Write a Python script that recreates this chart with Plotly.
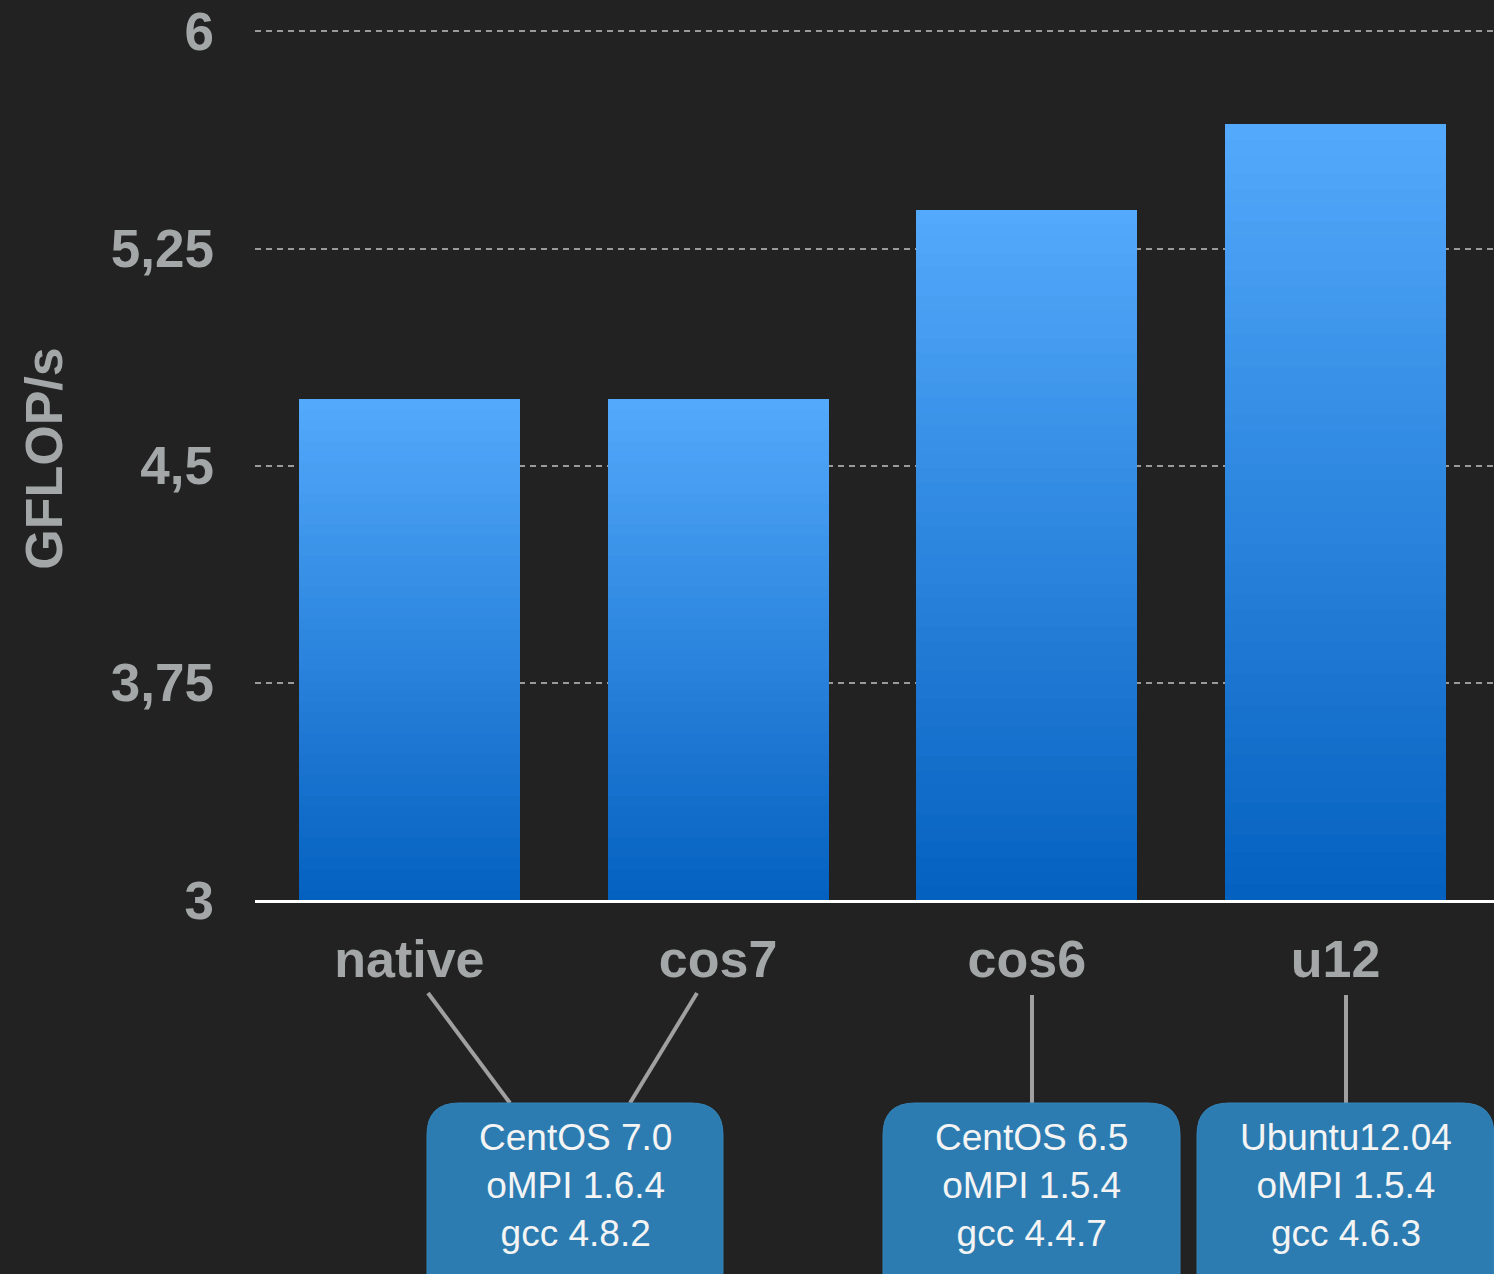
import plotly.graph_objects as go

# ---- data ----
categories = ["native", "cos7", "cos6", "u12"]
gflops = [4.73, 4.73, 5.385, 5.68]
y_tickvals = [3, 3.75, 4.5, 5.25, 6]
y_ticktext = ["3", "3,75", "4,5", "5,25", "6"]
box_texts = [
    "CentOS 7.0<br>oMPI 1.6.4<br>gcc 4.8.2",
    "CentOS 6.5<br>oMPI 1.5.4<br>gcc 4.4.7",
    "Ubuntu12.04<br>oMPI 1.5.4<br>gcc 4.6.3",
]

BASE = 3.0
N_SEG = 48
TOP_RGB = (83, 169, 251)
BOT_RGB = (5, 97, 192)

W, H = 1494, 1274
ML, MR, MT, MB = 255, 0, 17, 374
PW = W - ML - MR
PH = H - MT - MB

BG = "#222222"
GREY = "#A3A7A7"
FONT = "Liberation Sans"

fig = go.Figure()

# hidden base part (below y-axis range)
fig.add_trace(go.Bar(x=categories, y=[BASE] * len(categories),
                     marker=dict(color=BG, line=dict(width=0)),
                     hoverinfo="skip", showlegend=False))
# gradient segments, bottom (dark) to top (light)
for i in range(N_SEG):
    t = i / (N_SEG - 1)
    r = round(BOT_RGB[0] + (TOP_RGB[0] - BOT_RGB[0]) * t)
    g = round(BOT_RGB[1] + (TOP_RGB[1] - BOT_RGB[1]) * t)
    b = round(BOT_RGB[2] + (TOP_RGB[2] - BOT_RGB[2]) * t)
    seg = [(v - BASE) / N_SEG for v in gflops]
    fig.add_trace(go.Bar(x=categories, y=seg,
                         marker=dict(color=f"rgb({r},{g},{b})", line=dict(width=0)),
                         hoverinfo="skip", showlegend=False))


def px_x(px):
    return (px - ML) / PW


def px_y(py):
    return (H - MB - py) / PH


def rounded_rect(x0, y0, x1, y1, r):
    # pixel coords -> paper path with rounded corners
    pts = [
        ("M", x0 + r, y0), ("L", x1 - r, y0), ("Q", x1, y0, x1, y0 + r),
        ("L", x1, y1 - r), ("Q", x1, y1, x1 - r, y1), ("L", x0 + r, y1),
        ("Q", x0, y1, x0, y1 - r), ("L", x0, y0 + r), ("Q", x0, y0, x0 + r, y0),
    ]
    parts = []
    for p in pts:
        cmd = p[0]
        coords = p[1:]
        s = []
        for j in range(0, len(coords), 2):
            s.append(f"{px_x(coords[j]):.5f},{px_y(coords[j+1]):.5f}")
        parts.append(cmd + " ".join(s))
    return " ".join(parts) + " Z"


shapes = []
# connector lines
connectors = [((428, 993), (510, 1103)), ((697, 993), (630, 1103)),
              ((1032, 995), (1032, 1103)), ((1346, 995), (1346, 1103))]
for (ax, ay), (bx, by) in connectors:
    shapes.append(dict(type="line", xref="paper", yref="paper",
                       x0=px_x(ax), y0=px_y(ay), x1=px_x(bx), y1=px_y(by),
                       line=dict(color="#A0A0A0", width=4)))
# boxes
boxes = [(427, 723), (883, 1180), (1197, 1494)]
for x0, x1 in boxes:
    shapes.append(dict(type="path", xref="paper", yref="paper",
                       path=rounded_rect(x0, 1103, x1, 1310, 32),
                       fillcolor="#2C7CB2", line=dict(color="#3585BA", width=1)))

annotations = []
for (x0, x1), txt in zip(boxes, box_texts):
    annotations.append(dict(xref="paper", yref="paper", x=px_x((x0 + x1) / 2),
                            y=px_y(1185), text=txt, showarrow=False,
                            xanchor="center", yanchor="middle",
                            font=dict(family=FONT, size=37, color="#F4F4F4")))

fig.update_layout(
    width=W, height=H,
    margin=dict(l=ML, r=MR, t=MT, b=MB),
    paper_bgcolor=BG, plot_bgcolor=BG,
    barmode="stack", bargap=0.284,
    shapes=shapes, annotations=annotations,
    font=dict(family=FONT, color=GREY),
    xaxis=dict(range=[-0.5, 3.513], showgrid=False, zeroline=False,
               showline=True, linecolor="#FFFFFF", linewidth=3,
               tickfont=dict(family=FONT, size=52, color=GREY, weight="bold"),
               ticks="", ticklabelstandoff=12, fixedrange=True),
    yaxis=dict(range=[3, 6.05], tickvals=y_tickvals, ticktext=y_ticktext,
               showgrid=True, gridcolor="#9A9A9A", gridwidth=2, griddash="6px,5px",
               zeroline=False, showline=False, ticks="",
               tickfont=dict(family=FONT, size=53, color=GREY, weight="bold"),
               ticklabelstandoff=40,
               title=dict(text="GFLOP/s", standoff=31,
                          font=dict(family=FONT, size=52, color=GREY, weight="bold")),
               fixedrange=True),
)

fig.write_html(
    "out.html",
    config={"displayModeBar": False},
    post_script="document.body.style.margin='0';document.body.style.background='#222222';",
)
